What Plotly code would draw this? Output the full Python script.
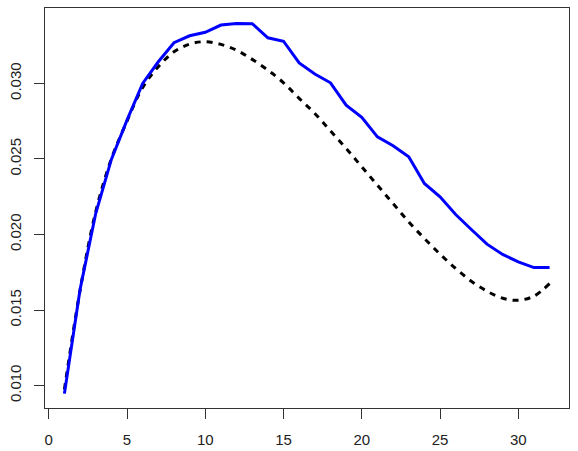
import plotly.graph_objects as go

# x positions (1..32)
x_vals = list(range(1, 33))

# blue solid series (observed)
observed = [
    0.00947, 0.01636, 0.02139, 0.02497, 0.02757, 0.03000, 0.03143, 0.03269,
    0.03315, 0.03338, 0.03386, 0.03397, 0.03395, 0.03302, 0.03279, 0.03136,
    0.03062, 0.03004, 0.02856, 0.02775, 0.02646, 0.02587, 0.02514, 0.02338,
    0.02249, 0.02132, 0.02033, 0.01936, 0.01868, 0.01819, 0.01781, 0.01781,
]

# black dotted series (smooth fit)
fitted = [
    0.00975, 0.01630, 0.02150, 0.02500, 0.02750, 0.02973, 0.03111, 0.03209,
    0.03260, 0.03276, 0.03258, 0.03220, 0.03159, 0.03088, 0.03004, 0.02901,
    0.02801, 0.02686, 0.02570, 0.02448, 0.02326, 0.02205, 0.02083, 0.01974,
    0.01870, 0.01775, 0.01691, 0.01625, 0.01578, 0.01565, 0.01592, 0.01675,
]

x_ticks = [0, 5, 10, 15, 20, 25, 30]
y_ticks = [0.010, 0.015, 0.020, 0.025, 0.030]
y_tick_text = ["0.010", "0.015", "0.020", "0.025", "0.030"]


def main():
    fig = go.Figure()
    fig.add_trace(go.Scatter(
        x=x_vals, y=fitted, mode="lines",
        line=dict(color="black", width=3, dash="6px,6px", shape="spline"),
        showlegend=False,
    ))
    fig.add_trace(go.Scatter(
        x=x_vals, y=observed, mode="lines",
        line=dict(color="#0000ff", width=3),
        showlegend=False,
    ))

    axis_common = dict(
        showgrid=False, zeroline=False, automargin=False,
        showline=True, linecolor="#333333", linewidth=1, mirror=True,
        ticks="outside", ticklen=10, tickcolor="#333333", tickwidth=1,
        tickfont=dict(family="Liberation Sans, Arial, sans-serif", size=15, color="#222222"),
    )
    fig.update_xaxes(range=[-0.24, 33.24], tickvals=x_ticks,
                     ticklabelstandoff=8, **axis_common)
    fig.update_yaxes(range=[0.008517, 0.03499], tickvals=y_ticks,
                     ticktext=y_tick_text, tickangle=-90,
                     ticklabelstandoff=7, **axis_common)

    fig.update_layout(
        width=578, height=451,
        margin=dict(l=45, r=9, t=8, b=43),
        plot_bgcolor="white", paper_bgcolor="white",
    )
    # page has a default 8px body margin; drop it so the figure sits at 0,0
    fig.write_html("out.html", config={"displayModeBar": False},
                   post_script="document.body.style.margin='0';")


if __name__ == "__main__":
    main()
